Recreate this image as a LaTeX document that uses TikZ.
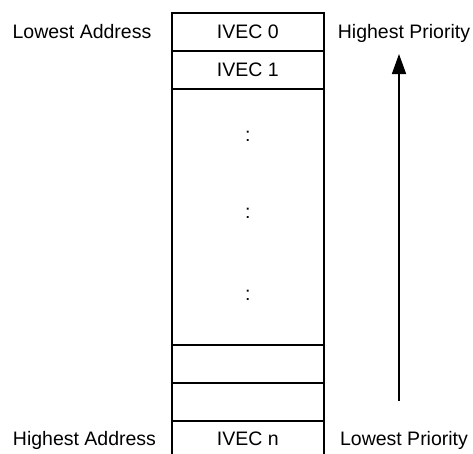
\documentclass[tikz,border=0pt]{standalone}
\usepackage{fontspec}
\setmainfont{Liberation Sans}
\usetikzlibrary{arrows.meta}
\begin{document}
\begin{tikzpicture}[x=1pt,y=-1pt,
  lbl/.style={font=\fontsize{19.5}{23}\selectfont, anchor=base, inner sep=0pt},
  cell/.style={draw, line width=2pt, minimum width=151.5pt, inner sep=0pt, anchor=north},
  dots/.style={font=\fontsize{19.5}{23}\selectfont, inner sep=0pt}
]
\useasboundingbox (0,0) rectangle (473,453);
\begin{scope}
\clip (0,0) rectangle (473,453);
\node[cell, minimum height=38pt] (r0) at (247.75,12) {};
\node[cell, minimum height=38pt] (r1) at (247.75,50) {};
\node[cell, minimum height=256pt] (mid) at (247.75,88) {};
\node[cell, minimum height=38pt] (ra) at (247.75,344) {};
\node[cell, minimum height=38pt] (rb) at (247.75,382) {};
\node[cell, minimum height=50pt] (rn) at (247.75,420) {};
\end{scope}
\node[lbl] (t0) at (247.75,38) {IVEC 0};
\node[lbl] (t1) at (247.75,76) {IVEC 1};
\node[lbl] (tn) at (247.75,445) {IVEC n};
\node[dots] (d1) at (247.75,136) {:};
\node[dots] (d2) at (247.75,213) {:};
\node[dots] (d3) at (247.75,295) {:};
\node[lbl] (la) at (82,38) {Lowest Address};
\node[lbl] (ha) at (84.5,445) {Highest Address};
\node[lbl] (hp) at (404,38) {Highest Priority};
\node[lbl] (lp) at (404,445) {Lowest Priority};
\coordinate (abot) at (399,401);
\coordinate (atop) at (399,54);
\draw[line width=1.6pt, -{Triangle[length=20pt,width=14pt]}] (abot) -- (atop);
\end{tikzpicture}
\end{document}
